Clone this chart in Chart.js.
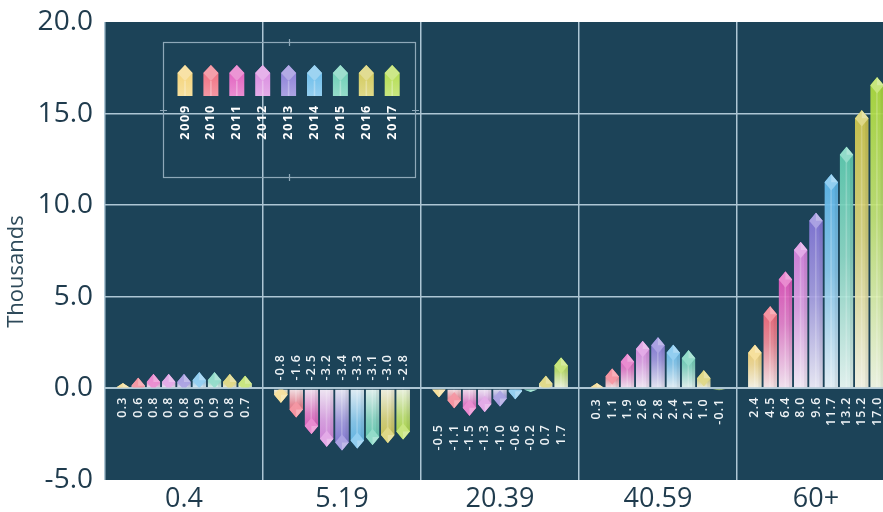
<!DOCTYPE html>
<html><head><meta charset="utf-8">
<script src="https://cdn.jsdelivr.net/npm/chart.js@4.4.0/dist/chart.umd.min.js"></script>
<style>
html,body{margin:0;padding:0;background:#fff;overflow:hidden;}
#wrap{position:relative;width:895px;height:512px;}
</style></head><body>
<div id="wrap"><canvas id="c" width="895" height="512"></canvas></div>
<script>
const categories = ['0.4', '5.19', '20.39', '40.59', '60+'];
const years = ['2009', '2010', '2011', '2012', '2013', '2014', '2015', '2016', '2017'];
const v2009 = [0.3, -0.8, -0.5, 0.3, 2.4];
const v2010 = [0.6, -1.6, -1.1, 1.1, 4.5];
const v2011 = [0.8, -2.5, -1.5, 1.9, 6.4];
const v2012 = [0.8, -3.2, -1.3, 2.6, 8.0];
const v2013 = [0.8, -3.4, -1.0, 2.8, 9.6];
const v2014 = [0.9, -3.3, -0.6, 2.4, 11.7];
const v2015 = [0.9, -3.1, -0.2, 2.1, 13.2];
const v2016 = [0.8, -3.0, 0.7, 1.0, 15.2];
const v2017 = [0.7, -2.8, 1.7, -0.1, 17.0];
const yTickValues = [-5, 0, 5, 10, 15, 20];
const yTitle = 'Thousands';
const colors = ['#f3cf6a', '#ee5f72', '#de4fb8', '#d57fdc', '#7f72d4', '#5bb5e8', '#5cc9ad', '#cdc44a', '#abd93b'];

const series = [v2009, v2010, v2011, v2012, v2013, v2014, v2015, v2016, v2017];

function rgb(hex){const n=parseInt(hex.slice(1),16);return [(n>>16)&255,(n>>8)&255,n&255];}
function mix(hex,t,a){const c=rgb(hex).map(v=>Math.round(v+(255-v)*t));return `rgba(${c[0]},${c[1]},${c[2]},${a===undefined?1:a})`;}

const datasets = series.map((vals, i) => ({
  label: years[i],
  data: vals,
  borderWidth: 0,
  categoryPercentage: 0.87,
  barPercentage: 0.9,
  backgroundColor: (ctx) => {
    const chart = ctx.chart; const ys = chart.scales.y;
    if (!ys || ctx.type !== 'data' || !ctx.parsed) return colors[i];
    const y0 = ys.getPixelForValue(0), y1 = ys.getPixelForValue(ctx.parsed.y);
    if (!isFinite(y0) || !isFinite(y1) || Math.abs(y0 - y1) < 0.5) return colors[i];
    const g = chart.ctx.createLinearGradient(0, y1, 0, y0);
    g.addColorStop(0, mix(colors[i], 0.0, 0.95));
    g.addColorStop(0.45, mix(colors[i], 0.3, 0.93));
    g.addColorStop(1, mix(colors[i], 0.88, 0.95));
    return g;
  }
}));

function roofPath(ctx, el) {
  const p = el.getProps(['x', 'y', 'base', 'width'], true);
  const l = p.x - p.width / 2, r = p.x + p.width / 2;
  const dir = p.y <= p.base ? 1 : -1;
  const len = Math.abs(p.base - p.y);
  const h = Math.min(p.width * 0.6, len);
  ctx.moveTo(l, p.base); ctx.lineTo(l, p.y + dir * h); ctx.lineTo(p.x, p.y);
  ctx.lineTo(r, p.y + dir * h); ctx.lineTo(r, p.base); ctx.closePath();
  return {p, l, r, dir, h, len};
}

const bgPlugin = {
  id: 'plotBg',
  beforeDraw(chart) {
    const {ctx, chartArea: a} = chart;
    ctx.save(); ctx.fillStyle = '#1c4358';
    ctx.fillRect(a.left, a.top, a.right - a.left, a.bottom - a.top);
    ctx.restore();
  },
  afterDraw(chart) {
    const ctx = chart.ctx; const a = chart.chartArea;
    ctx.save();
    ctx.translate(17, a.top + (a.bottom - a.top) * 0.545);
    ctx.rotate(-Math.PI / 2);
    ctx.fillStyle = '#2e4a5a'; ctx.font = '22px "Open Sans"';
    ctx.textAlign = 'center'; ctx.textBaseline = 'middle';
    ctx.fillText(yTitle, 0, 0);
    ctx.restore();
  }
};

const crystalPlugin = {
  id: 'crystal',
  beforeDatasetDraw(chart, args) {
    const ctx = chart.ctx; ctx.save(); ctx.beginPath();
    args.meta.data.forEach(el => roofPath(ctx, el));
    ctx.clip();
  },
  afterDatasetDraw(chart, args) {
    const ctx = chart.ctx; ctx.restore();
    const col = colors[args.index];
    args.meta.data.forEach(el => {
      ctx.save(); ctx.beginPath();
      const g = roofPath(ctx, el);
      if (g.len < 0.5) { ctx.restore(); return; }
      ctx.clip();
      const {p, l, r, dir, h} = g;
      ctx.fillStyle = 'rgba(255,255,255,0.22)';
      const sy = Math.min(p.y, p.base), sh = Math.abs(p.base - p.y);
      ctx.fillRect(p.x - 1, sy, 1.6, sh);
      ctx.fillStyle = 'rgba(0,0,0,0.06)';
      ctx.fillRect(p.x + p.width * 0.25, sy, p.width * 0.25, sh);
      ctx.beginPath();
      ctx.moveTo(p.x, p.y); ctx.lineTo(r, p.y + dir * h);
      ctx.lineTo(p.x, p.y + dir * 2 * h); ctx.lineTo(l, p.y + dir * h); ctx.closePath();
      ctx.fillStyle = mix(col, 0.35, 0.95); ctx.fill();
      ctx.beginPath();
      ctx.moveTo(p.x, p.y); ctx.lineTo(r, p.y + dir * h); ctx.lineTo(p.x, p.y + dir * h); ctx.closePath();
      ctx.fillStyle = 'rgba(255,255,255,0.25)'; ctx.fill();
      ctx.restore();
    });
  },
  afterDatasetsDraw(chart) {
    const ctx = chart.ctx; const ys = chart.scales.y;
    const zero = ys.getPixelForValue(0);
    ctx.save();
    ctx.fillStyle = '#eef3f6';
    ctx.font = '600 12.5px "Open Sans"';
    ctx.letterSpacing = '1.2px';
    ctx.textBaseline = 'middle';
    chart.data.labels.forEach((c, i) => {
      const vals = chart.data.datasets.map(d => d.data[i]);
      const mx = Math.max(...vals), mn = Math.min(...vals);
      chart.data.datasets.forEach((d, di) => {
        const el = chart.getDatasetMeta(di).data[i];
        ctx.save();
        if (mx <= 0) {
          ctx.translate(el.x, zero - 8); ctx.rotate(-Math.PI / 2); ctx.textAlign = 'left';
        } else {
          ctx.translate(el.x, ys.getPixelForValue(Math.min(0, mn)) + 8); ctx.rotate(-Math.PI / 2); ctx.textAlign = 'right';
        }
        ctx.fillText(d.data[i].toFixed(1), 0, 0);
        ctx.restore();
      });
    });
    ctx.restore();
  }
};

const legendPlugin = {
  id: 'crystalLegend',
  afterDraw(chart) {
    const ctx = chart.ctx;
    ctx.save();
    ctx.strokeStyle = '#8ea8b8'; ctx.lineWidth = 1.2;
    ctx.strokeRect(163.5, 42.5, 252, 135);
    ctx.beginPath();
    ctx.moveTo(289.5, 39); ctx.lineTo(289.5, 46);
    ctx.moveTo(289.5, 174); ctx.lineTo(289.5, 181);
    ctx.moveTo(160, 110.5); ctx.lineTo(167, 110.5);
    ctx.moveTo(412, 110.5); ctx.lineTo(419, 110.5);
    ctx.stroke();
    chart.data.datasets.forEach((d, i) => {
      const cx = 185 + i * 25.9, w = 15, l = cx - w / 2, r = cx + w / 2;
      const top = 65, sh = 73, bot = 96;
      const col = colors[i];
      const g = ctx.createLinearGradient(0, top, 0, bot);
      g.addColorStop(0, mix(col, 0.05)); g.addColorStop(1, mix(col, 0.35));
      ctx.beginPath();
      ctx.moveTo(l, bot); ctx.lineTo(l, sh); ctx.lineTo(cx, top); ctx.lineTo(r, sh); ctx.lineTo(r, bot); ctx.closePath();
      ctx.fillStyle = g; ctx.fill();
      ctx.beginPath();
      ctx.moveTo(cx, top); ctx.lineTo(r, sh); ctx.lineTo(cx, sh + 8); ctx.lineTo(l, sh); ctx.closePath();
      ctx.fillStyle = mix(col, 0.4); ctx.fill();
      ctx.fillStyle = 'rgba(255,255,255,0.3)';
      ctx.fillRect(cx - 0.8, sh + 8, 1.6, bot - sh - 8);
      ctx.save();
      ctx.translate(cx, 104); ctx.rotate(-Math.PI / 2);
      ctx.fillStyle = '#ffffff'; ctx.font = 'bold 12.5px "Open Sans"'; ctx.letterSpacing = '1.8px';
      ctx.textAlign = 'right'; ctx.textBaseline = 'middle';
      ctx.fillText(d.label, 0, 0);
      ctx.restore();
    });
    ctx.restore();
  }
};

new Chart(document.getElementById('c'), {
  type: 'bar',
  data: { labels: categories, datasets },
  plugins: [bgPlugin, crystalPlugin, legendPlugin],
  options: {
    responsive: false,
    animation: false,
    layout: { padding: { top: 22, left: 0, right: 0, bottom: 0 } },
    plugins: { legend: { display: false }, tooltip: { enabled: false } },
    scales: {
      x: {
        grid: { offset: true, color: '#adc6d4', lineWidth: 1.5, drawTicks: false },
        border: { display: false },
        ticks: { color: '#1f3b4d', font: { family: 'Open Sans', size: 27 }, padding: 3 },
        afterFit(s) { s.height = 32; s.paddingLeft = 0; s.paddingRight = 0; }
      },
      y: {
        min: -5, max: 20,
        afterBuildTicks(s) { s.ticks = yTickValues.map(v => ({ value: v })); },
        grid: {
          color: c => (c.tick && (c.tick.value === -5 || c.tick.value === 20)) ? 'rgba(0,0,0,0)' : '#adc6d4',
          lineWidth: c => (c.tick && c.tick.value === 0) ? 2 : 1.5,
          drawTicks: false
        },
        border: { display: false },
        ticks: { color: '#1f3b4d', font: { family: 'Open Sans', size: 28 }, padding: 12, callback: v => Number(v).toFixed(1) },
        afterFit(s) { s.width = 105; s.paddingTop = 0; s.paddingBottom = 0; }
      }
    }
  }
});
</script>
</body></html>
